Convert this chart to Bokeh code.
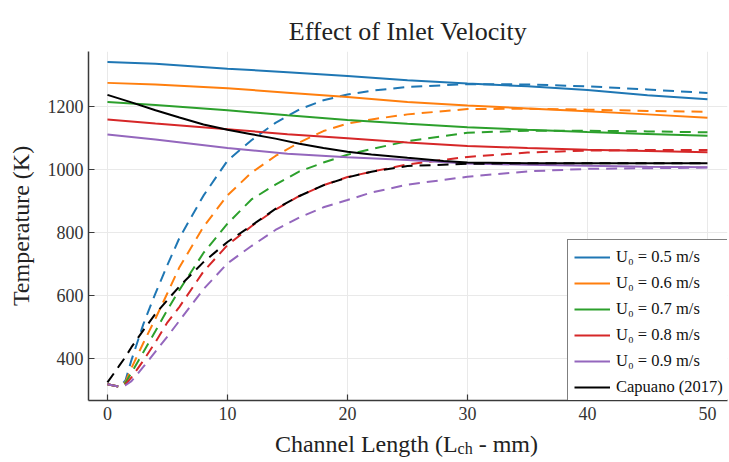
from bokeh.plotting import figure
from bokeh.layouts import column
from bokeh.models import Range1d, Legend, LegendItem, Label, Title
from bokeh.embed import file_html
from bokeh.resources import INLINE

# Axial positions along the channel (mm)
x_solid = [0, 4, 10, 15, 20, 25, 30, 35, 40, 45, 50]
x_capuano_solid = [0, 2, 4, 6, 8, 10, 12, 14, 16, 18, 20, 22, 25, 28, 30, 35, 40, 45, 50]
x_dashed = [0, 1, 1.5, 2, 3, 4, 5, 6, 8, 10, 12, 14, 16, 18, 20, 22, 25, 30, 35, 40, 45, 50]

# Solid-phase temperature (K) for each inlet velocity
solid_u05 = [1341, 1336, 1320, 1309, 1297, 1283, 1273, 1264, 1252, 1236, 1223]
solid_u06 = [1275, 1270, 1258, 1244, 1230, 1214, 1203, 1194, 1185, 1175, 1164]
solid_u07 = [1214, 1205, 1188, 1172, 1157, 1145, 1134, 1126, 1119, 1113, 1107]
solid_u08 = [1159, 1146, 1128, 1112, 1099, 1086, 1075, 1068, 1063, 1059, 1055]
solid_u09 = [1111, 1095, 1068, 1050, 1039, 1030, 1019, 1015, 1012, 1009, 1007]
solid_capuano = [1237, 1213, 1188, 1165, 1143, 1126, 1112, 1098, 1082, 1068,
                 1056, 1048, 1037, 1027, 1022, 1020, 1020, 1020, 1020]

# Gas-phase temperature (K) for each inlet velocity
gas_u05 = [318, 310, 330, 395, 510, 607, 697, 783, 917, 1028, 1093, 1148, 1191,
           1220, 1238, 1250, 1262, 1271, 1270, 1264, 1254, 1243]
gas_u06 = [318, 310, 325, 370, 450, 527, 608, 690, 818, 918, 990, 1043, 1086,
           1122, 1146, 1159, 1175, 1192, 1193, 1190, 1186, 1183]
gas_u07 = [318, 310, 322, 355, 421, 487, 555, 618, 735, 828, 905, 952, 994,
           1022, 1047, 1065, 1090, 1117, 1123, 1123, 1121, 1118]
gas_u08 = [318, 310, 318, 340, 394, 452, 515, 564, 676, 760, 820, 873, 916,
           950, 976, 993, 1016, 1040, 1054, 1060, 1062, 1062]
gas_u09 = [318, 310, 315, 328, 374, 422, 470, 520, 620, 702, 757, 808, 848,
           880, 903, 927, 952, 977, 994, 1002, 1004, 1006]
gas_capuano = [324, 378, 405, 436, 490, 542, 586, 629, 706, 770, 822, 875, 916,
               950, 975, 993, 1011, 1018, 1020, 1020, 1020, 1020]

legend_labels = ["U\u2080 = 0.5 m/s", "U\u2080 = 0.6 m/s", "U\u2080 = 0.7 m/s",
                 "U\u2080 = 0.8 m/s", "U\u2080 = 0.9 m/s", "Capuano (2017)"]
colors = ["#1f77b4", "#ff7f0e", "#2ca02c", "#d62728", "#9467bd", "#000000"]

x_ticks = [0, 10, 20, 30, 40, 50]
y_ticks = [400, 600, 800, 1000, 1200]

SERIF = "Liberation Serif"
TEXT = "#222222"

p = figure(width=729, height=430, output_backend="svg", toolbar_location=None,
           x_range=Range1d(-1.58, 51.67), y_range=Range1d(266.7, 1374.6),
           min_border_left=88, min_border_right=2,
           min_border_top=51, min_border_bottom=30)
p.title = Title(text="Effect of Inlet Velocity", align="center", offset=0,
                text_font=SERIF, text_font_size="26px",
                text_font_style="normal", text_color=TEXT, standoff=12)
p.outline_line_color = None
p.background_fill_color = "white"
p.border_fill_color = "white"

for ax, ticks in ((p.xaxis, x_ticks), (p.yaxis, y_ticks)):
    ax.ticker = ticks
    ax.axis_line_color = "#3a3a3a"
    ax.axis_line_width = 1.5
    ax.major_tick_in = 6
    ax.major_tick_out = 0
    ax.major_tick_line_color = "#3a3a3a"
    ax.major_tick_line_width = 1.2
    ax.minor_tick_line_color = None
    ax.major_label_text_font = SERIF
    ax.major_label_text_font_size = "18px"
    ax.major_label_text_color = "#333333"
p.xaxis.major_label_standoff = 6
p.yaxis.major_label_standoff = 5

p.yaxis.axis_label = "Temperature (K)"
p.yaxis.axis_label_text_font = SERIF
p.yaxis.axis_label_text_font_size = "24px"
p.yaxis.axis_label_text_font_style = "normal"
p.yaxis.axis_label_text_color = TEXT
p.yaxis.axis_label_standoff = 11

p.xgrid.ticker = x_ticks
p.ygrid.ticker = y_ticks
p.grid.grid_line_color = "#e9e9e9"
p.grid.grid_line_width = 1

solid_sets = [solid_u05, solid_u06, solid_u07, solid_u08, solid_u09]
gas_sets = [gas_u05, gas_u06, gas_u07, gas_u08, gas_u09]

items = []
for ys, yg, c, lab in zip(solid_sets, gas_sets, colors, legend_labels):
    r = p.line(x_solid, ys, line_color=c, line_width=2)
    p.line(x_dashed, yg, line_color=c, line_width=2, line_dash="11 7")
    items.append(LegendItem(label=lab, renderers=[r]))

r = p.line(x_capuano_solid, solid_capuano, line_color=colors[5], line_width=2)
p.line(x_dashed, gas_capuano, line_color=colors[5], line_width=2, line_dash="11 7")
items.append(LegendItem(label=legend_labels[5], renderers=[r]))

legend = Legend(items=items, location=(479, -5),
                label_text_font=SERIF, label_text_font_size="16.5px",
                label_text_color="#111111",
                glyph_width=36, glyph_height=22, label_height=22,
                label_standoff=6, spacing=4, padding=6, margin=0,
                border_line_color="#000000", border_line_width=1.2,
                background_fill_color="white", background_fill_alpha=1)
p.add_layout(legend, "center")

# Strip underneath holding the x-axis title (with its subscript)
xl = figure(width=729, height=32, output_backend="svg", toolbar_location=None,
            x_range=Range1d(0, 729), y_range=Range1d(0, 32),
            x_axis_location=None, y_axis_location=None,
            min_border=0)
xl.outline_line_color = None
xl.grid.visible = False
xl.background_fill_color = "white"
xl.border_fill_color = "white"

EM = {"C": .667, "h": .5, "a": .444, "n": .5, "e": .444, "l": .278, " ": .25,
      "\u00a0": .25, "L": .611, "g": .5, "t": .278, "(": .333, ")": .333,
      "c": .444, "-": .333, "m": .778}


def text_width(s, size):
    return sum(EM.get(ch, .5) for ch in s) * size


# the strip's frame starts under the main frame's left edge
strip_left = 89
main_size, sub_size = 24, 16
parts = [("Channel Length (L", main_size, 0), ("ch", sub_size, -5),
         ("\u00a0- mm)", main_size, 0)]
total = sum(text_width(s, sz) for s, sz, _ in parts)
cursor = 407 - total / 2 - strip_left
for s, sz, dy in parts:
    xl.add_layout(Label(x=cursor, y=19 + dy, x_units="screen", y_units="screen",
                        text=s, text_align="left", text_baseline="alphabetic",
                        text_font=SERIF, text_font_size=f"{sz}px",
                        text_color=TEXT))
    cursor += text_width(s, sz)

layout = column(p, xl, spacing=0)
open("out.html", "w").write(file_html(layout, INLINE))
